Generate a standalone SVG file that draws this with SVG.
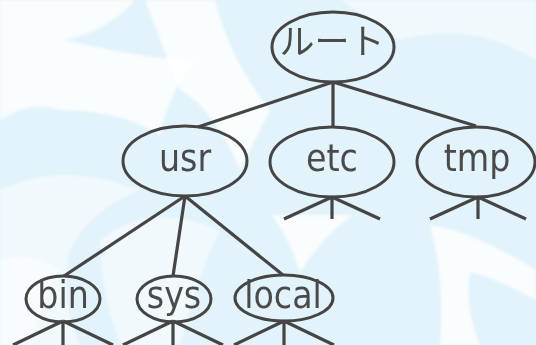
<svg xmlns="http://www.w3.org/2000/svg" width="536" height="345" viewBox="0 0 536 345">
<defs>
<style>
.n{fill:none;stroke:#454545;stroke-width:3}
.c{fill:none;stroke:#454545;stroke-width:3.2;stroke-linecap:butt}
.t{font-family:"DejaVu Sans Condensed","DejaVu Sans","Noto Sans",sans-serif;font-size:37px;fill:#4a4a4a;text-anchor:middle}
.j{font-family:"Noto Sans CJK JP","Noto Sans",sans-serif;font-size:35px;fill:#4a4a4a;text-anchor:middle}
.w{fill:#ffffff;opacity:0.8}
.w2{fill:#ffffff;opacity:0.5}
</style>
<filter id="bl" x="-10%" y="-10%" width="120%" height="120%"><feGaussianBlur stdDeviation="1.5"/></filter>
</defs>
<rect width="536" height="345" fill="#e2f3fb"/>
<g id="background" filter="url(#bl)">
<path class="w" d="M0 0 H135 Q110 30 65 40 Q150 60 195 60 Q170 90 160 135 Q120 110 60 110 Q30 100 0 120 Z"/>
<path class="w" d="M145 0 H215 Q230 60 270 110 Q255 140 240 170 Q215 110 180 90 Q160 40 145 0 Z"/>
<path class="w2" d="M0 190 Q60 160 140 190 Q90 210 70 250 Q60 300 80 345 H0 Z"/>
<path class="w2" d="M100 240 Q150 200 220 230 Q200 270 180 345 H120 Q100 290 100 240 Z"/>
<path class="w" d="M272 215 H352 Q320 240 300 272 Q290 240 272 215 Z"/>
<path class="w" d="M430 225 Q470 230 536 270 V300 Q500 280 470 272 Q465 310 480 345 H440 Q445 280 430 225 Z"/>
<path class="w2" d="M340 0 H536 V60 Q470 20 400 40 Q370 20 340 0 Z"/>
<path class="w2" d="M0 260 Q30 250 60 270 Q40 300 30 345 H0 Z"/>
</g>
<g id="connectors">
<path class="c" d="M333 82 L198 127 M333 82 V127 M333 82 L476 126"/>
<path class="c" d="M185 196 L64 276 M185 196 L173 276 M185 196 L283 275"/>
<path class="c" d="M332 197 L284 219 M332 197 V219 M332 197 L380 219"/>
<path class="c" d="M478 197 L430 219 M478 197 V219 M478 197 L526 219"/>
<path class="c" d="M63 321 L13 345 M63 321 V345 M63 321 L113 345"/>
<path class="c" d="M173 321 L123 345 M173 321 V345 M173 321 L223 345"/>
<path class="c" d="M284 321 L234 345 M284 321 V345 M284 321 L334 345"/>
</g>
<g id="root"><ellipse class="n" cx="333" cy="47" rx="61" ry="35"/><text class="j" x="332" y="54">ルート</text></g>
<g id="usr"><ellipse class="n" cx="185" cy="161" rx="62" ry="35"/><text class="t" x="185" y="171">usr</text></g>
<g id="etc"><ellipse class="n" cx="332" cy="162" rx="62" ry="35"/><text class="t" x="332" y="171">etc</text></g>
<g id="tmp"><ellipse class="n" cx="476" cy="162" rx="59" ry="35"/><text class="t" x="477" y="171">tmp</text></g>
<g id="bin"><ellipse class="n" cx="63" cy="299" rx="37" ry="23"/><text class="t" x="63" y="308">bin</text></g>
<g id="sys"><ellipse class="n" cx="174" cy="299" rx="37" ry="23"/><text class="t" x="174" y="308">sys</text></g>
<g id="local"><ellipse class="n" cx="284" cy="298" rx="49" ry="23"/><text class="t" x="283" y="308">local</text></g>
</svg>
